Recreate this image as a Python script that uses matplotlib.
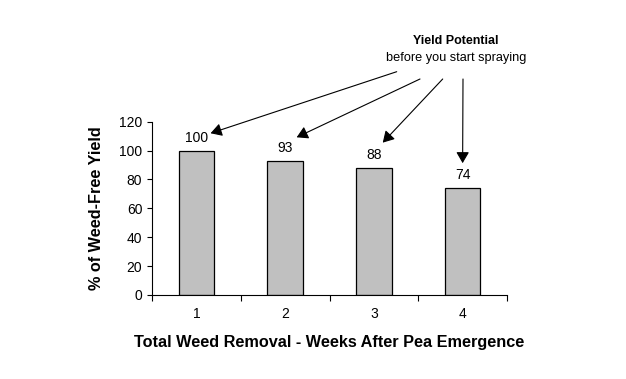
import matplotlib.pyplot as plt
import numpy as np

plt.rcParams['font.family'] = ['Liberation Sans', 'DejaVu Sans']

# ---- data ----
weeks = ['1', '2', '3', '4']
yield_pct = [100, 93, 88, 74]
y_ticks = [0, 20, 40, 60, 80, 100, 120]

# arrow tips (data coords) and start points (figure pixels from top-left)
arrow_tips = [(0.16, 112.0), (1.13, 109.2), (2.10, 105.5), (3.0, 91.3)]
arrow_starts = [(396.7, 71.7), (420.0, 79.0), (442.7, 79.0), (463.0, 79.0)]

W, H = 626, 379
fig = plt.figure(figsize=(W / 100, H / 100), dpi=100)
ax = fig.add_axes([152 / W, 1 - 295 / H, (507 - 152) / W, (295 - 121.7) / H])

x = np.arange(len(weeks))
ax.bar(x, yield_pct, width=0.4, color='#C0C0C0', edgecolor='black', linewidth=0.9)

for xi, v in zip(x, yield_pct):
    ax.annotate(str(v), (xi, v), xytext=(0, 6.3), textcoords='offset points',
                ha='center', va='baseline', fontsize=10)

ax.set_xlim(-0.5, len(weeks) - 0.5)
ax.set_ylim(0, 120)
ax.set_yticks(y_ticks)
ax.tick_params(axis='y', labelsize=10, length=3.5, width=0.8, direction='out')

# ticks between categories, labels centred
ax.set_xticks(np.arange(-0.5, len(weeks)), labels=[''] * (len(weeks) + 1))
ax.set_xticks(x, labels=weeks, minor=True)
ax.tick_params(axis='x', which='major', length=4, width=0.8, direction='out')
ax.tick_params(axis='x', which='minor', length=0, labelsize=10, pad=9)

for s in ['top', 'right']:
    ax.spines[s].set_visible(False)
for s in ['left', 'bottom']:
    ax.spines[s].set_linewidth(0.8)

ax.set_ylabel('% of Weed-Free Yield', fontsize=11.7, fontweight='bold', labelpad=11)
ax.set_xlabel('Total Weed Removal - Weeks After Pea Emergence', fontsize=11.7,
              fontweight='bold', labelpad=10)

fig.text(455.7 / W, 1 - 40.7 / H, 'Yield Potential', ha='center', va='center',
         fontsize=9, fontweight='bold')
fig.text(456 / W, 1 - 58 / H, 'before you start spraying', ha='center', va='center',
         fontsize=9.2)

for tip, start in zip(arrow_tips, arrow_starts):
    ax.annotate('', xy=tip, xycoords='data',
                xytext=(start[0] / W, 1 - start[1] / H), textcoords='figure fraction',
                arrowprops=dict(arrowstyle='-|>,head_length=0.48,head_width=0.28',
                                color='black', lw=0.8,
                                mutation_scale=14, shrinkA=0, shrinkB=0))

fig.savefig('out.png', dpi=100)
